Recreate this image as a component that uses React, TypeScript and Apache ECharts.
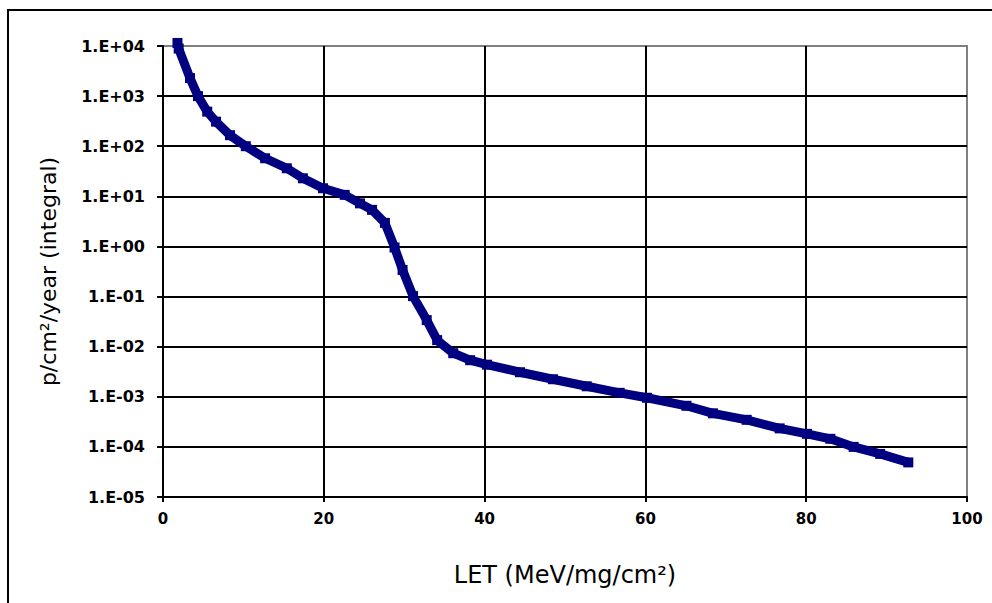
import React, { useEffect, useRef } from "react";
import * as echarts from "echarts";

const letValues = [1.8, 1.95, 3.36, 4.35, 5.5, 6.6, 8.33, 10.3, 12.7, 15.4, 17.4, 19.9, 22.6, 24.5, 26.0, 27.6, 28.8, 29.8, 31.1, 32.8, 34.1, 36.1, 38.2, 40.3, 44.4, 48.5, 52.7, 56.8, 60.2, 65.1, 68.4, 72.6, 76.7, 80.1, 83.0, 85.9, 89.2, 92.7];
const fluxValues = [11500, 8900, 2290, 1000, 490, 309, 166, 100, 57.5, 36.3, 22.9, 14.5, 10.7, 7.24, 5.37, 2.95, 0.955, 0.339, 0.102, 0.0339, 0.0135, 0.00741, 0.00537, 0.00437, 0.00309, 0.00224, 0.00162, 0.0012, 0.000955, 0.000661, 0.000468, 0.000347, 0.000234, 0.000182, 0.000145, 0.0001, 0.0000724, 0.000049];
const yTickLabels = ["1.E-05", "1.E-04", "1.E-03", "1.E-02", "1.E-01", "1.E+00", "1.E+01", "1.E+02", "1.E+03", "1.E+04"];
const xTickLabels = ["0", "20", "40", "60", "80", "100"];
const xName = "LET (MeV/mg/cm²)";
const yName = "p/cm²/year (integral)";

export default function App() {
  const ref = useRef<HTMLDivElement>(null);
  useEffect(() => {
    if (!ref.current) return;
    const chart = echarts.init(ref.current, null, { renderer: "svg" });
    const data = letValues.map((x, i) => [x, fluxValues[i]]);
    chart.setOption({
      animation: false,
      backgroundColor: "#fff",
      grid: {
        left: 163,
        top: 46,
        right: 25,
        bottom: 106,
        show: true,
        borderColor: "#808080",
        borderWidth: 2,
        backgroundColor: "transparent",
      },
      graphic: [
        {
          type: "rect",
          shape: { x: 8, y: 10, width: 2000, height: 2000 },
          style: { fill: "none", stroke: "#000", lineWidth: 2 },
          z: 0,
        },
      ],
      xAxis: {
        type: "value",
        min: 0,
        max: 100,
        interval: 20,
        name: xName,
        nameLocation: "middle",
        nameGap: 66,
        nameTextStyle: { fontFamily: "DejaVu Sans", fontSize: 24, color: "#000" },
        axisLine: { show: true, lineStyle: { color: "#000", width: 2 } },
        axisTick: { show: true, length: 5, lineStyle: { color: "#000", width: 2 } },
        axisLabel: {
          fontFamily: "DejaVu Sans",
          fontWeight: "bold",
          fontSize: 15,
          color: "#000",
          margin: 14,
          formatter: (v: number) => xTickLabels[Math.round(v / 20)] ?? String(v),
        },
        splitLine: { show: true, showMaxLine: false, lineStyle: { color: "#000", width: 2 } },
      },
      yAxis: {
        type: "log",
        logBase: 10,
        min: 0.00001,
        max: 10000,
        name: yName,
        nameLocation: "middle",
        nameGap: 104,
        nameRotate: 90,
        nameTextStyle: { fontFamily: "DejaVu Sans", fontSize: 22, color: "#000" },
        axisLine: { show: true, lineStyle: { color: "#000", width: 2 } },
        axisTick: { show: true, length: 6, lineStyle: { color: "#000", width: 2 } },
        axisLabel: {
          fontFamily: "DejaVu Sans",
          fontWeight: "bold",
          fontSize: 16,
          color: "#000",
          margin: 18,
          formatter: (v: number) => yTickLabels[Math.round(Math.log10(v)) + 5] ?? String(v),
        },
        splitLine: { show: true, showMaxLine: false, lineStyle: { color: "#000", width: 2 } },
      },
      series: [
        {
          type: "line",
          data,
          clip: false,
          symbol: "rect",
          symbolSize: 10,
          showSymbol: true,
          itemStyle: { color: "#000080" },
          lineStyle: { color: "#000080", width: 9, join: "bevel" },
          z: 5,
        },
      ],
    });
    return () => chart.dispose();
  }, []);
  return (
    <div
      ref={ref}
      style={{ position: "fixed", left: 0, top: 0, width: 992, height: 603 }}
    />
  );
}
